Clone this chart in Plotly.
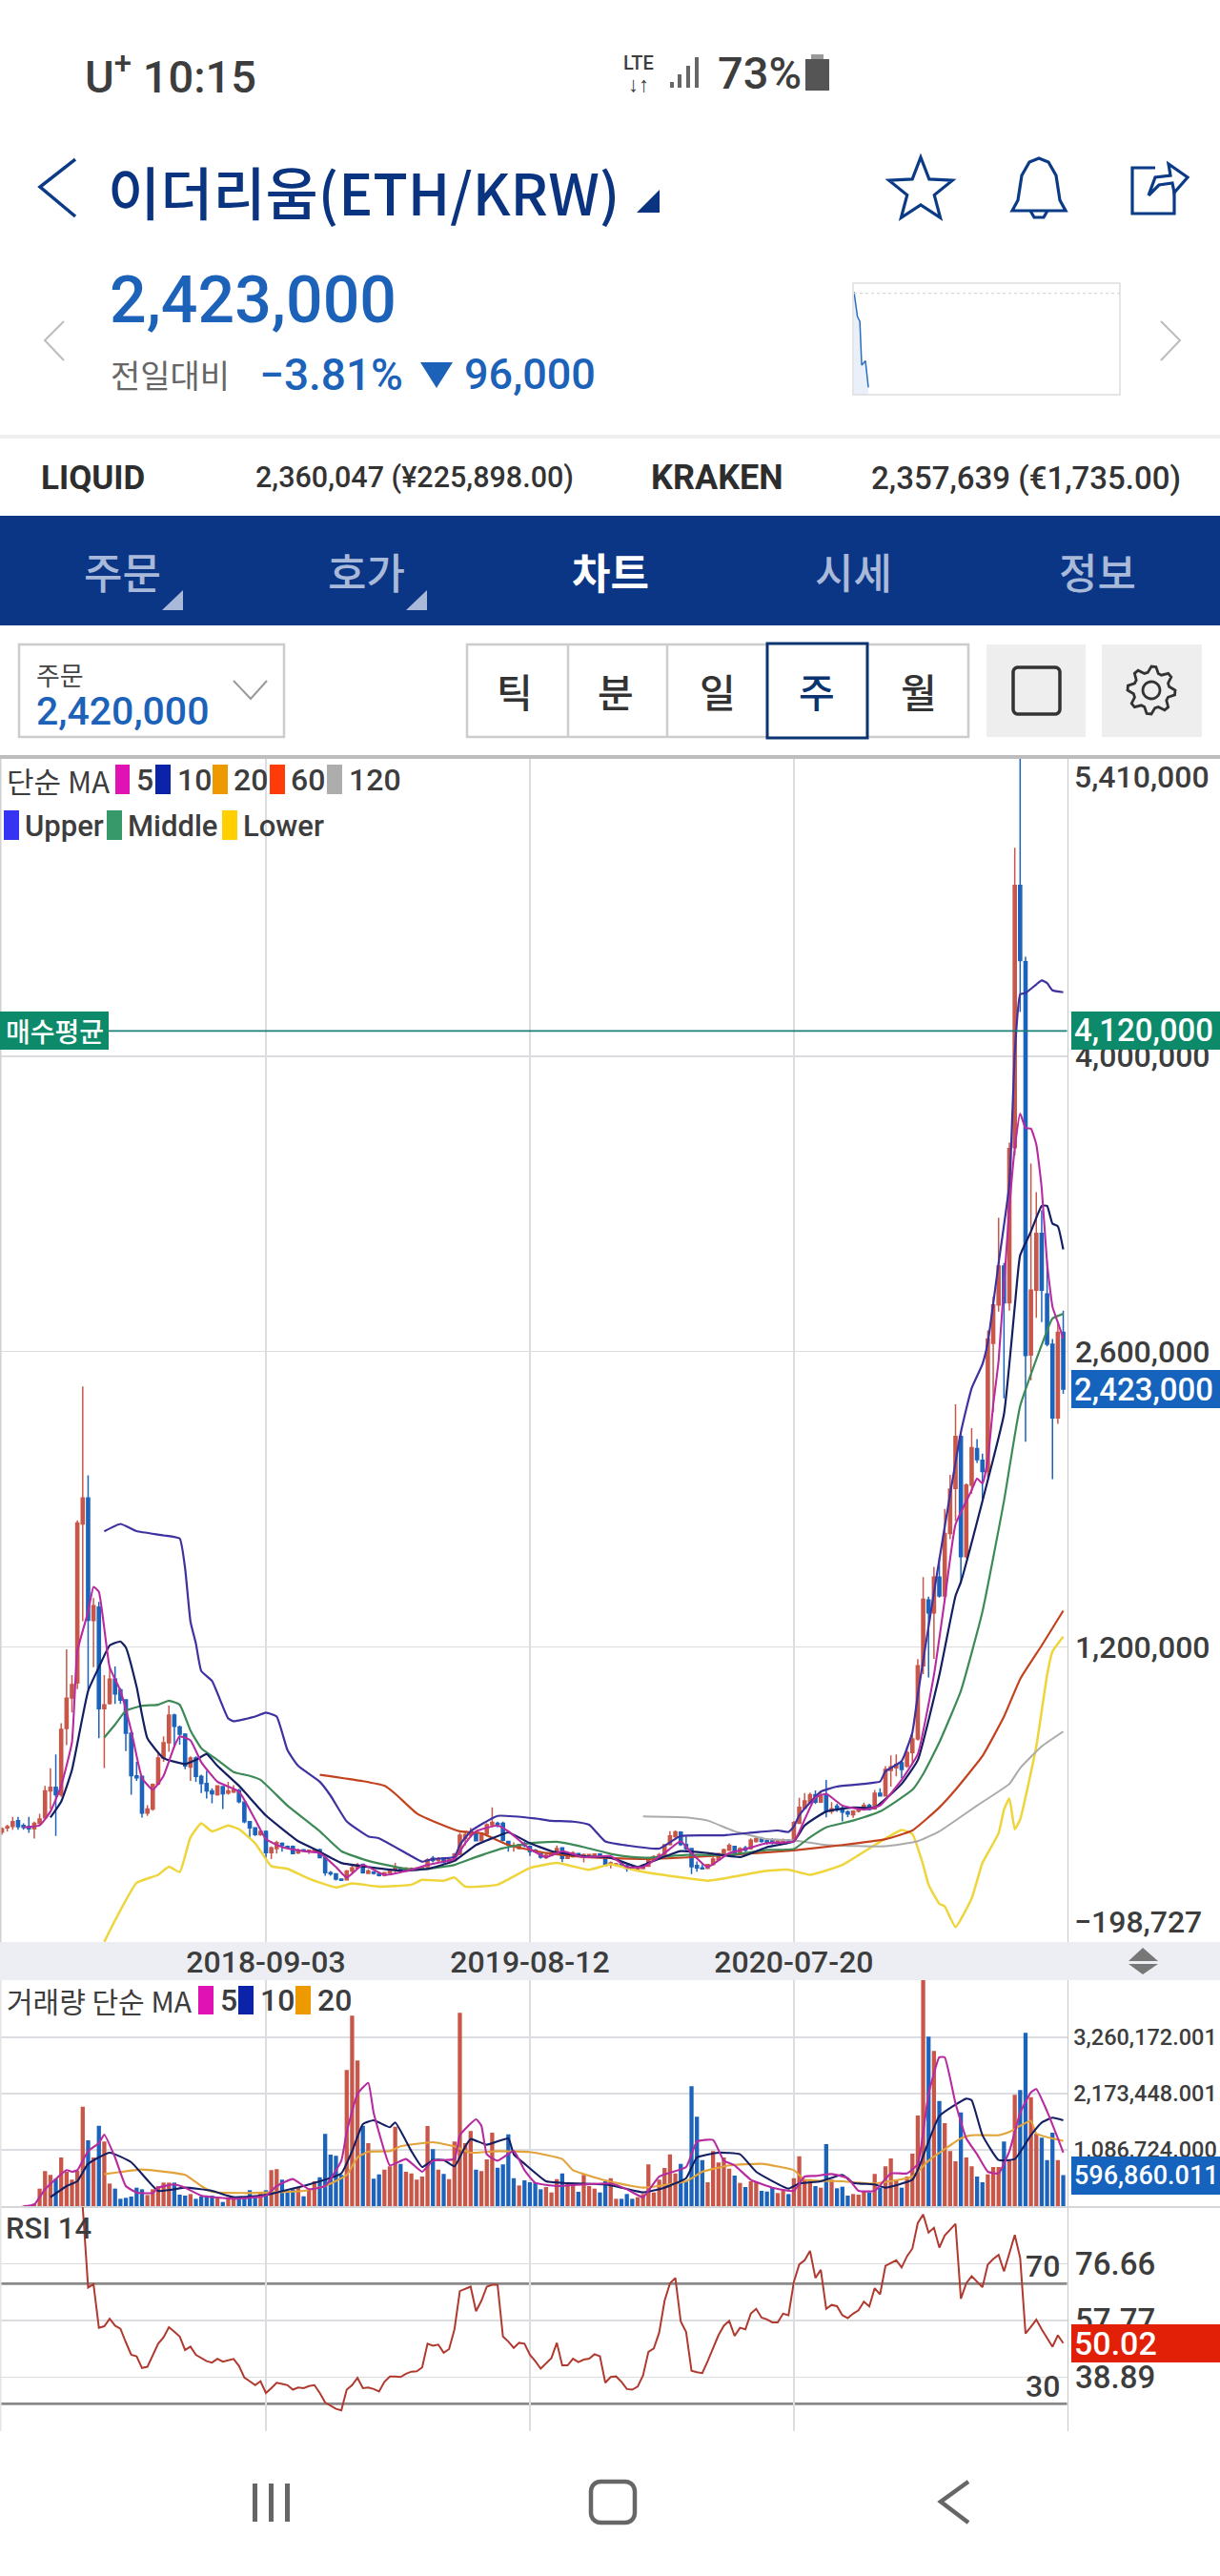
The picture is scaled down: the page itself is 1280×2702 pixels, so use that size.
import numpy as np
import pandas as pd
import plotly.graph_objects as go

W, H = 1280, 2702

# ---------- DATA (KRW thousands, weekly candles) ----------
first_week = "2017-09-25"
n_weeks = 198
date_ticks = ["2018-09-03", "2019-08-12", "2020-07-20"]

opens = [322,342,349,376,354,349,338,364,390,518,535,500,814,958,1029,1783,1906,1326,1389,907,932,1047,997,949,791,589,586,412,432,550,673,746,877,820,786,631,673,586,553,518,500,538,507,512,519,465,372,342,311,325,
225,244,269,254,254,224,239,232,233,239,201,130,124,99,96,138,153,170,127,133,126,118,130,141,152,146,146,146,149,158,198,188,198,179,188,218,293,308,319,281,314,357,364,364,278,254,244,269,254,236,221,
201,212,221,248,198,206,221,209,212,212,218,209,168,168,171,162,153,146,149,161,188,203,212,263,301,322,263,244,164,153,150,168,191,218,236,254,224,248,244,278,292,281,281,272,275,284,281,364,435,462,
500,465,498,422,445,436,418,405,422,428,449,433,506,494,615,627,651,635,700,764,1111,1423,1362,1531,1442,1738,1951,2198,1628,1967,2140,2085,2032,2640,2822,3006,2832,3567,4810,4448,2584,2892,3160,2873,2635,2286,2691]
highs = [345,357,394,394,364,394,372,409,541,625,691,839,1189,1067,1800,2435,2014,1432,1414,1067,1104,1107,1005,952,801,655,590,450,553,696,776,922,884,827,791,681,681,595,613,530,545,541,560,545,528,468,375,345,329,330,
254,281,274,259,259,244,242,239,239,244,206,138,127,100,143,168,176,173,146,136,129,134,146,176,156,156,155,155,161,198,209,203,203,203,224,319,322,342,322,319,364,440,372,372,281,274,266,278,259,242,224,
221,229,259,251,213,232,224,221,219,221,221,212,183,176,173,168,156,156,168,203,212,224,266,327,330,327,302,248,183,171,171,206,224,244,269,257,251,257,293,299,299,289,293,286,292,289,375,485,507,510,
520,510,570,465,457,449,425,425,442,462,457,522,530,635,686,691,659,729,796,1143,1531,1439,1580,1623,1854,2016,2350,2209,1975,2237,2185,2116,2700,2860,3235,3020,3591,4988,5410,4472,3492,3356,3270,3029,2660,2740,2794]
lows = [310,326,334,334,334,319,292,357,382,432,304,489,734,889,1000,1322,998,1104,767,626,927,930,930,706,500,565,391,399,424,545,655,703,726,737,620,565,560,507,482,459,495,432,500,507,459,364,296,304,304,200,
194,221,229,244,218,218,230,218,230,198,115,115,93,92,93,127,146,126,123,121,112,112,126,130,138,140,142,143,146,153,179,176,173,173,183,213,259,296,278,278,308,345,345,278,229,229,240,251,209,224,197,
195,209,218,180,194,201,203,179,209,209,209,161,150,164,160,135,143,140,146,158,183,200,203,259,284,257,236,123,135,146,148,164,188,209,233,221,221,228,239,272,272,263,263,269,271,272,274,360,432,455,
455,460,392,409,418,373,393,390,415,425,425,428,490,490,538,587,578,627,643,756,1071,1055,1144,1434,1413,1712,1798,1499,1620,1927,2072,1903,2000,2314,2790,2379,2794,3530,4210,2173,2464,2760,2740,2625,1996,2258,2400]
closes = [338,348,372,348,345,338,364,384,518,535,500,809,957,1022,1788,1906,1327,1395,907,926,1048,978,948,791,590,580,412,432,548,673,746,877,824,786,636,673,586,553,518,504,541,504,518,521,467,372,342,311,326,225,
248,272,259,248,221,236,233,236,236,201,130,124,100,94,138,153,167,130,138,127,117,130,143,150,143,152,150,152,156,191,188,197,179,191,218,308,310,322,281,311,357,369,360,284,263,259,263,259,231,229,203,
213,224,244,198,209,224,209,216,216,218,213,164,176,172,164,150,147,153,165,198,206,215,262,304,323,263,244,158,153,148,168,194,221,239,259,224,244,236,284,292,278,271,272,281,286,277,367,440,470,500,
465,493,425,433,433,417,408,422,436,449,430,506,494,619,632,643,619,700,764,1111,1426,1362,1531,1442,1738,1948,2198,1628,1967,2145,2088,2032,2660,2822,3006,2832,3563,4810,4454,2582,2892,3160,2892,2635,2286,2691,2423]

volume = [0,0,0,0,6,12,49,338,675,602,528,939,663,510,682,1922,1271,939,1553,1246,436,338,141,160,184,356,325,215,325,387,454,454,454,221,203,233,141,184,203,203,172,80,172,172,172,172,307,203,276,307,
694,712,510,295,325,356,190,325,479,559,1394,995,970,602,2628,3678,2812,1553,1216,528,614,706,768,1535,817,663,632,510,571,1547,1099,706,620,522,1246,3733,1216,1449,706,675,903,1418,743,804,1388,540,399,497,461,461,325,
368,264,522,632,448,448,276,602,387,338,264,479,540,141,141,233,141,172,233,804,264,510,737,1001,632,817,479,2315,1725,890,461,1062,841,939,725,589,448,368,479,461,295,282,356,252,295,233,540,964,510,522,
387,356,1197,510,344,375,203,233,221,295,264,620,356,768,921,510,356,571,1013,1750,4378,3273,2996,2032,1603,1062,866,1811,939,768,571,461,614,755,755,1246,878,2149,2241,3346,2106,1400,1320,890,1418,890,597]
volume_dir = list("rrrrrrrrrr" "brrrrrbrbr" "rbbbbbbrrr" "rrbbbrbbbb" "rbrrbbbbrb"
                  "rrbbbrbrrb" "bbbbrrrbrb" "brrrbrrrrr" "brbrrrrrbr" "rrbbbbrbbb"
                  "brrrbrrbrr" "rbbrrbbbrr" "rrrrrrbbbb" "brrrrrbrbr" "rbbbrrbrrr"
                  "rbrbrbbbrr" "rbrbrrrbrr" "rrbrbrrrbr" "rbbrrrbrrb" "brrbbbrb")

ma5_idx = [4,7,9,11,13,14,16,17,18,20,22,24,26,28,30,32,33,35,37,40,44,47,49,52,56,59,62,64,67,71,76,79,84,86,88,92,94,98,101,104,108,113,116,119,123,126,128,131,135,138,142,147,149,151,153,156,160,163,167,170,173,175,177,180,181,182,183,184,185,187,188,189,190,191,192,193,194,195,196,197]
ma5_val = [345,354,420,542,748,1179,1367,1485,1461,1104,992,804,579,523,589,729,776,757,654,561,514,382,289,251,232,223,157,107,167,120,144,167,195,270,326,354,326,242,204,232,204,208,157,157,223,279,223,157,223,242,270,279,382,486,504,448,429,448,570,692,1067,1423,1781,1943,1999,1975,2088,2347,2557,3282,3563,3728,3661,3657,3582,3376,3019,2813,2738,2663]
ma10_idx = [9,11,13,16,18,20,22,23,25,27,30,34,36,38,40,44,49,55,58,63,68,75,79,84,88,93,94,98,102,108,113,118,120,126,131,137,142,147,149,153,158,162,167,170,174,177,178,182,186,188,189,191,193,194,195,196,197]
ma10_val = [392,467,617,992,1104,1207,1226,1198,1011,767,673,645,664,692,636,542,401,279,242,176,157,139,148,186,261,313,321,270,232,208,201,157,176,232,223,204,251,279,354,420,439,439,551,664,1067,1442,1508,1892,2304,2813,3057,3169,3291,3291,3207,3194,3085]
ma60_idx = [59,67,71,73,77,81,85,89,94,101,108,120,135,147,156,164,169,174,177,182,186,189,193,197]
ma60_val = [594,564,542,504,411,364,326,317,261,223,204,195,214,236,261,289,330,439,523,683,870,1048,1207,1372]
ma120_idx = [119,127,131,136,142,147,153,164,170,174,181,187,189,193,197]
ma120_val = [397,392,377,326,289,283,261,255,279,326,448,551,626,729,799]
upper_idx = [19,22,25,30,33,34,35,36,37,39,42,43,47,49,51,53,55,59,61,64,68,70,76,78,80,84,85,87,92,99,102,106,109,112,116,122,126,134,140,144,146,147,148,150,152,155,160,163,164,167,169,170,172,173,178,180,182,183,185,187,188,189,190,192,193,194,195,197]
upper_val = [1748,1783,1749,1729,1714,1573,1320,1217,1086,1039,861,848,870,889,870,711,636,561,495,373,302,293,208,182,195,204,261,326,399,387,376,372,357,278,259,244,304,307,322,330,323,349,402,462,514,538,551,562,610,659,796,974,1297,1458,2218,2427,2541,2644,3019,3394,4013,4294,4300,4341,4360,4347,4313,4304]
middle_idx = [19,21,23,26,29,31,33,35,37,40,43,46,48,53,59,63,68,75,79,84,88,93,98,103,108,113,117,120,127,135,142,147,150,153,158,163,169,171,174,178,182,186,189,193,195,197]
middle_val = [771,832,898,921,926,945,926,804,720,664,607,589,570,448,326,232,186,148,148,167,204,246,270,276,251,219,204,201,214,214,238,242,298,345,377,420,523,598,748,992,1367,1892,2342,2632,2757,2779]
lower_idx = [19,21,25,29,31,33,35,37,39,42,44,47,50,53,57,62,65,70,76,78,82,84,86,92,98,103,109,113,118,125,131,135,142,146,150,156,162,167,169,171,172,174,175,177,180,182,185,186,187,188,189,192,194,195,197]
lower_val = [-198,-96,82,120,158,133,298,364,326,354,336,270,161,148,101,60,79,64,73,96,92,107,64,73,152,176,144,170,139,111,92,107,139,144,120,167,261,332,313,167,73,-17,-30,-128,8,176,317,429,482,336,382,729,1067,1179,1249]

vol_ma5_idx = [4,6,8,12,13,14,16,18,19,21,23,25,28,29,32,34,37,43,49,51,54,57,60,63,64,66,68,69,71,72,75,78,80,84,85,88,89,90,92,95,97,99,103,108,113,116,119,122,127,129,132,134,136,139,143,147,149,151,154,157,159,162,165,168,170,172,174,175,177,179,181,183,185,187,189,191,192,194,196,197]
vol_ma5_val = [0,31,325,694,663,694,1062,1216,1382,939,387,264,252,356,418,356,203,141,203,387,522,325,387,878,1431,2167,2382,1799,1062,786,909,663,878,909,1369,1676,1553,1001,878,1062,694,448,387,418,436,325,172,571,755,1246,1277,878,786,510,356,295,571,583,620,540,295,295,632,632,817,2167,2874,2874,1983,1308,1001,663,632,1062,1799,2198,2260,1830,1308,1032]
vol_ma10_idx = [9,12,14,16,20,24,29,34,39,43,49,57,63,65,67,69,72,73,76,78,80,82,84,86,87,90,94,95,97,101,104,112,115,119,123,127,129,133,137,140,146,148,152,156,158,162,164,169,170,174,179,180,182,185,188,191,193,195,197]
vol_ma10_val = [172,387,479,817,1032,847,295,356,295,172,215,418,632,1062,1584,1658,1523,1615,1062,755,890,890,768,1154,1296,1185,1308,1001,817,479,448,418,356,264,356,540,939,1032,1001,663,338,436,479,602,448,418,356,510,694,1738,2075,2045,1369,890,909,1369,1615,1707,1658]
vol_ma20_idx = [19,21,26,34,37,39,45,50,56,60,64,66,68,72,74,80,84,87,92,98,104,106,112,117,119,127,130,135,141,147,149,156,162,169,172,178,180,185,187,191,192,197]
vol_ma20_val = [620,645,706,602,387,276,252,264,295,387,602,939,1050,1062,1154,1234,1154,1032,1062,1044,909,694,497,387,356,479,663,786,817,694,510,479,436,571,878,1308,1369,1369,1431,1646,1400,1259]

rsi_start = 15
rsi = [95.5,68.7,69.8,55.3,55.8,58.3,56,55,50.5,46.3,45.8,41.9,42.3,46.3,50,52.1,55.5,54,52.4,47.9,49,46.3,45.2,44.2,43.7,45,44,44.5,44.9,42.6,38.7,37.5,36.2,37.5,33.6,35.2,37,36.6,36.2,34.7,35.4,35.2,35.9,36.2,33.6,30.4,29.4,28.3,27.8,34.7,36.2,38.6,35.2,35.4,34.9,34.1,37.3,39.1,39.1,38.9,40,40.7,40.8,42.1,50,49.3,49.7,47,48.2,54.8,67.5,68.3,69,60.8,64.3,69,69.6,69.6,52.4,50.7,48.6,50.3,50,46.3,44.2,41.7,43.4,45.2,50.3,42.8,42.8,45,43.9,44.7,45,46.5,45.8,37,
38.9,39.1,37.3,34.9,34.7,35.7,39.4,47.3,48.4,53.7,64.3,70.1,71.9,57.4,53.9,41,40.5,40.2,44.2,48.4,52.8,56,57.6,52.6,55.3,54.8,60,61.6,58.7,58.1,57.1,57.1,60,59.5,70.6,76.4,77.8,80.9,71.9,74.6,61.6,62.9,62.5,59.5,58.5,60,61.1,64,62.4,68.5,66.4,75.9,76.8,77.8,75.4,79.1,81.7,90.2,93,87,88.6,82,86,88.1,89.9,65,70.1,72.5,70.6,68.8,76.4,78.2,79.6,74.1,80.1,86.2,78.6,53.4,55.6,58,54.8,52.1,49,52.8,50.2]

spark_t = [0, 1.3, 2.2, 2.9, 4.3, 5.4]
spark_v = [2522, 2471, 2461, 2371, 2380, 2325]
prev_close = 2519
avg_buy = 4120
last_price = 2423
price_ticks = [4000, 2600, 1200]
price_labels = ["4,000,000", "2,600,000", "1,200,000"]
vol_ticks = [1086.724, 2173.448, 3260.172]
vol_labels = ["1,086,724.000", "2,173,448.001", "3,260,172.001"]
rsi_ticks = [38.89, 57.77, 76.66]
rsi_labels = ["38.89", "57.77", "76.66"]

assert len(opens) == len(highs) == len(lows) == len(closes) == len(volume) == len(volume_dir) == n_weeks
assert len(rsi) == n_weeks - rsi_start

# ---------- colours ----------
RED, BLUE = "#c8574a", "#1c63bb"
C_MA5, C_MA10, C_MA60, C_MA120 = "#b82aa0", "#141f63", "#c4431f", "#ababab"
C_UP, C_MID, C_LOW, C_MA20 = "#3d32a0", "#3d8a57", "#eed53c", "#e2a33a"
NAVY, TXT, PRICE = "#0a3685", "#3d3d3d", "#1c62b8"
GRID = "#dcdde0"
SANS, KR = "Roboto", "Noto Sans CJK KR"

# ---------- helpers (pixel -> paper) ----------
def X(p): return p / W
def Y(p): return 1 - p / H

dates = pd.date_range(first_week, periods=n_weeks, freq="7D")
def dt(idx): return [dates[i] for i in idx]

shapes, annos = [], []
def rect(x0, y0, x1, y1, fill=None, line=None, lw=0, layer="above"):
    shapes.append(dict(type="rect", xref="paper", yref="paper", x0=X(x0), x1=X(x1), y0=Y(y1), y1=Y(y0),
                       fillcolor=fill or "rgba(0,0,0,0)", line=dict(color=line or "rgba(0,0,0,0)", width=lw), layer=layer))
def poly(pts, color=None, lw=2, fill=None, close=False, layer="above"):
    d = "M" + " L".join(f"{X(a):.5f},{Y(b):.5f}" for a, b in pts) + (" Z" if close else "")
    shapes.append(dict(type="path", xref="paper", yref="paper", path=d, fillcolor=fill or "rgba(0,0,0,0)",
                       line=dict(color=color or "rgba(0,0,0,0)", width=lw), layer=layer))
def rrect(x0, y0, x1, y1, r, color, lw):
    pts = []
    for cx, cy, a0 in [(x1 - r, y0 + r, -90), (x1 - r, y1 - r, 0), (x0 + r, y1 - r, 90), (x0 + r, y0 + r, 180)]:
        for t in np.radians(np.linspace(a0, a0 + 90, 6)):
            pts.append((cx + r * np.cos(t), cy + r * np.sin(t)))
    poly(pts, color=color, lw=lw, close=True)
def text(s, x, y, size, color=TXT, anchor="left", font=SANS, weight=500):
    annos.append(dict(text=s, xref="paper", yref="paper", x=X(x), y=Y(y), xanchor=anchor,
                      yanchor="middle", showarrow=False, font=dict(size=size, color=color, family=font, weight=weight),
                      borderpad=0))

# ---------- figure ----------
fig = go.Figure()
fig.add_trace(go.Candlestick(x=dates, open=opens, high=highs, low=lows, close=closes, xaxis="x", yaxis="y",
    increasing=dict(line=dict(color=RED, width=1.5), fillcolor=RED),
    decreasing=dict(line=dict(color=BLUE, width=1.5), fillcolor=BLUE), whiskerwidth=0, showlegend=False))
for idx, val, col, w in [(lower_idx, lower_val, C_LOW, 2.5), (ma120_idx, ma120_val, C_MA120, 2),
                         (ma60_idx, ma60_val, C_MA60, 2.2), (middle_idx, middle_val, C_MID, 2.2),
                         (upper_idx, upper_val, C_UP, 2.2), (ma10_idx, ma10_val, C_MA10, 2.2),
                         (ma5_idx, ma5_val, C_MA5, 2.1)]:
    fig.add_trace(go.Scatter(x=dt(idx), y=val, mode="lines", line=dict(color=col, width=w, shape="spline", smoothing=0.4),
                             xaxis="x", yaxis="y", showlegend=False, cliponaxis=True))

fig.add_trace(go.Bar(x=dates, y=volume, marker=dict(color=[RED if d == "r" else BLUE for d in volume_dir], line=dict(width=0)),
                     xaxis="x2", yaxis="y2", showlegend=False))
for idx, val, col in [(vol_ma20_idx, vol_ma20_val, C_MA20), (vol_ma10_idx, vol_ma10_val, C_MA10), (vol_ma5_idx, vol_ma5_val, C_MA5)]:
    fig.add_trace(go.Scatter(x=dt(idx), y=val, mode="lines", line=dict(color=col, width=2.1, shape="spline", smoothing=0.4),
                             xaxis="x2", yaxis="y2", showlegend=False))

fig.add_trace(go.Scatter(x=dates[rsi_start:], y=rsi, mode="lines", line=dict(color="#b03a30", width=2),
                         xaxis="x3", yaxis="y3", showlegend=False))

fig.add_trace(go.Scatter(x=spark_t, y=spark_v, mode="lines", line=dict(color="#2a6fc0", width=1.5), fill="tozeroy",
                         fillcolor="rgba(42,111,192,0.10)", xaxis="x4", yaxis="y4", showlegend=False))

# axes
PLOT_R = 1119.5
xr = [dates[0] - pd.Timedelta(days=2.5), dates[-1] + pd.Timedelta(days=4.9)]
def dom_y(top, bot): return [1 - bot / H, 1 - top / H]
xcommon = dict(type="date", range=xr, domain=[0, PLOT_R / W], tickvals=date_ticks, showgrid=True, gridcolor=GRID, gridwidth=1.5,
               zeroline=False, showline=False, rangeslider=dict(visible=False), fixedrange=True)
ycommon = dict(side="right", tickmode="array", showgrid=True, gridcolor=GRID, gridwidth=1.3, zeroline=False, showline=True,
               linecolor="#c8c8c8", ticks="", fixedrange=True, ticklabelstandoff=1)
layout = dict(
    width=W, height=H, margin=dict(l=0, r=0, t=0, b=0), paper_bgcolor="white", plot_bgcolor="white",
    showlegend=False, bargap=0.24, dragmode=False, boxgap=0.45, boxgroupgap=0,
    xaxis=dict(xcommon, anchor="y", ticktext=date_ticks, tickmode="array", showticklabels=True, ticks="",
               ticklabelstandoff=-1, tickfont=dict(family=SANS, size=32, color=TXT, weight=500)),
    xaxis2=dict(xcommon, anchor="y2", showticklabels=False, matches="x"),
    xaxis3=dict(xcommon, anchor="y3", showticklabels=False, matches="x"),
    yaxis=dict(ycommon, domain=dom_y(796, 2037), range=[-198.727, 5410], anchor="x", tickvals=price_ticks,
               ticktext=price_labels, tickfont=dict(family=SANS, size=32, color=TXT, weight=500)),
    yaxis2=dict(ycommon, domain=dom_y(2077, 2314), range=[0, 4365], anchor="x2", tickvals=vol_ticks,
                ticktext=vol_labels, tickfont=dict(family=SANS, size=23.5, color=TXT, weight=500)),
    yaxis3=dict(ycommon, domain=dom_y(2315, 2550), range=[20.9, 95.5], anchor="x3", tickvals=rsi_ticks,
                ticktext=rsi_labels, tickfont=dict(family=SANS, size=33, color=TXT, weight=500)),
    xaxis4=dict(domain=[896 / W, 1175 / W], range=[0, 100], anchor="y4", visible=False, fixedrange=True),
    yaxis4=dict(domain=dom_y(297, 414), range=[2310, 2540], anchor="x4", visible=False, fixedrange=True),
)

# buy-average & RSI guide lines (on the data axes)
shapes.append(dict(type="line", xref="x domain", yref="y", x0=0, x1=1, y0=avg_buy, y1=avg_buy, line=dict(color="#1a7f78", width=1.8), layer="above"))
for lvl in (70, 30):
    shapes.append(dict(type="line", xref="x3 domain", yref="y3", x0=0, x1=1, y0=lvl, y1=lvl, line=dict(color="#8a8a8a", width=2.6), layer="below"))

# ---------- chart chrome ----------
rect(0, 2037, W, 2077, fill="#eceef3", layer="below")
rect(0, 792, W, 796, fill="#bdbdbd", layer="below")
rect(0, 2314, W, 2316, fill="#d5d6d9", layer="below")
poly([(0.8, 796), (0.8, 2037)], color="#d0d0d0", lw=1.5)
poly([(0.8, 2077), (0.8, 2550)], color="#e4e4e4", lw=1.5)
poly([(1184, 2057), (1199, 2043), (1215, 2057)], fill="#777777", close=True)
poly([(1184, 2060), (1199, 2071), (1215, 2060)], fill="#777777", close=True)

def swatches(items, y0, y1):
    for a, b, c in items:
        rect(a, y0, b, y1, fill=c)
text("단순 MA", 6, 818, 31, font=KR, weight=400)
swatches([(121, 136, "#e012b4"), (163, 179, "#0b23a8"), (223, 239, "#ec9a00"), (283, 299, "#ff3b0a"), (343, 359, "#adadad")], 802, 833)
for s, x in [("5", 142), ("10", 185), ("20", 244), ("60", 304), ("120", 365)]:
    text(s, x, 818, 32)
swatches([(4, 20, "#3633f2"), (112, 128, "#37996a"), (233, 249, "#ffcf00")], 850, 881)
for s, x in [("Upper", 25), ("Middle", 133), ("Lower", 254)]:
    text(s, x, 866, 31)

rect(0, 1061, 114, 1101, fill="#0d8a6a")
text("매수평균", 57, 1081, 28, color="white", anchor="center", font=KR)
rect(1124, 1061, W, 1101, fill="#0d8a6a")
text("4,120,000", 1126, 1081, 33, color="white")
rect(1124, 1437, W, 1477, fill="#1563bd")
text("2,423,000", 1126, 1457, 33, color="white")
text("5,410,000", 1126, 815, 32)
text("−198,727", 1126, 2016, 32)

text("거래량 단순 MA", 6, 2098, 30, font=KR, weight=400)
swatches([(208, 224, "#e012b4"), (250, 266, "#0b23a8"), (310, 326, "#ec9a00")], 2083, 2113)
for s, x in [("5", 230), ("10", 272), ("20", 332)]:
    text(s, x, 2098, 32)
rect(1124, 2262, W, 2302, fill="#1563bd")
text("596,860.011", 1126, 2282, 27, color="white")
text("RSI 14", 5, 2337, 31)
text("70", 1113, 2377, 32, anchor="right")
text("30", 1113, 2503, 32, anchor="right")
rect(1124, 2438, W, 2478, fill="#e21f07")
text("50.02", 1126, 2458, 34, color="white")

# ---------- app chrome : status bar ----------
text("U<sup>+</sup> 10:15", 88, 77, 47)
text("LTE", 670, 66, 20, anchor="center")
text("↓↑", 670, 88, 22, anchor="center")
for a, top in [(703, 86), (711, 78), (720, 69), (729, 60)]:
    rect(a, top, a + 4, 92, fill="#666666")
text("73%", 752, 77, 47)
rect(845, 62, 870, 95, fill="#555555")
rect(851, 57, 864, 62, fill="#999999")

# header
poly([(79, 167), (42, 196), (79, 227)], color="#0b3a86", lw=3.5)
text("이더리움(ETH/KRW)", 112, 200, 60, color="#0a3480", font=KR, weight=500)
poly([(668, 223), (692, 223), (692, 199)], fill="#0a3480", close=True)
star = []
for k in range(10):
    r = 35 if k % 2 == 0 else 15
    a = -np.pi / 2 + k * np.pi / 5
    star.append((966 + r * np.cos(a), 200 + r * np.sin(a)))
poly(star, color="#0b3a86", lw=3.2, close=True)
bell = [(1062, 221), (1068, 210), (1072, 184), (1080, 170), (1090, 166), (1100, 170), (1108, 184), (1112, 210), (1118, 221)]
poly(bell, color="#0b3a86", lw=3.2, close=True)
poly([(1081, 221), (1085, 228), (1095, 228), (1099, 221)], color="#0b3a86", lw=3.2)
poly([(1232, 178), (1232, 224), (1188, 224), (1188, 176), (1212, 176)], color="#0b3a86", lw=3.2)
poly([(1205, 205), (1212, 186), (1228, 184), (1226, 172), (1246, 186), (1232, 202), (1230, 192), (1216, 194), (1205, 205)], color="#0b3a86", lw=3.2, fill="white")

text("2,423,000", 114, 315, 68, color=PRICE)
text("전일대비", 115, 393, 34, color="#666666", font=KR, weight=400)
text("−3.81%", 271, 393, 46, color=PRICE)
poly([(441, 380), (475, 380), (458, 407)], fill=PRICE, close=True)
text("96,000", 486, 393, 45, color=PRICE)
poly([(67, 337), (47, 357), (67, 378)], color="#bcbcbc", lw=2)
poly([(1218, 337), (1238, 357), (1218, 378)], color="#bcbcbc", lw=2)
rect(895, 297, 1175, 414, line="#dddddd", lw=1.5)
shapes.append(dict(type="line", xref="x4 domain", yref="y4", x0=0, x1=1, y0=prev_close, y1=prev_close,
                   line=dict(color="#d8d8d8", width=1.2, dash="dot"), layer="above"))

# exchange row
rect(0, 456, W, 460, fill="#eeeeee")
text("LIQUID", 42, 501, 35, color="#2d2d2d", weight=700)
text("2,360,047 (¥225,898.00)", 267, 501, 30.5, color="#333333")
text("KRAKEN", 682, 501, 36, color="#2d2d2d", weight=700)
text("2,357,639 (€1,735.00)", 913, 501, 33, color="#333333")

# nav bar
rect(0, 541, W, 656, fill=NAVY)
for s, x, c in [("주문", 128, "#a9b9d9"), ("호가", 384, "#a9b9d9"), ("차트", 640, "white"), ("시세", 895, "#a9b9d9"), ("정보", 1151, "#a9b9d9")]:
    text(s, x, 599, 44, color=c, anchor="center", font=KR, weight=(700 if c == "white" else 500))
for a in (170, 426):
    poly([(a, 640), (a + 22, 640), (a + 22, 619)], fill="#a9b9d9", close=True)

# toolbar
rect(20, 676, 298, 773, line="#cccccc", lw=2.5)
text("주문", 37, 707, 27, color="#444444", font=KR, weight=400)
text("2,420,000", 37, 746, 41, color=PRICE)
poly([(245, 714), (263, 733), (280, 714)], color="#999999", lw=2)
rect(490, 676, 1016, 773, line="#cccccc", lw=2.5)
for a in (596, 700):
    poly([(a, 676), (a, 773)], color="#cccccc", lw=2.5)
rect(805, 675, 910, 774, line="#0a3470", lw=3, fill="white")
for s, x, c in [("틱", 540, "#333333"), ("분", 646, "#333333"), ("일", 753, "#333333"), ("주", 857, "#0a3470"), ("월", 964, "#333333")]:
    text(s, x, 724, 41, color=c, anchor="center", font=KR)
rect(1035, 676, 1139, 773, fill="#eeeeee")
rrect(1063, 700, 1112, 749, 5, "#333333", 3.5)
rect(1156, 676, 1261, 773, fill="#eeeeee")
gear = []
for k in range(32):
    a = 2 * np.pi * k / 32
    r = 25 if (k % 4) in (0, 1) else 19
    gear.append((1208 + r * np.cos(a), 724 + r * np.sin(a)))
poly(gear, color="#333333", lw=2.8, close=True)
circ = [(1208 + 9 * np.cos(t), 724 + 9 * np.sin(t)) for t in np.linspace(0, 2 * np.pi, 24)]
poly(circ, color="#333333", lw=2.8, close=True)

# android navigation bar
for a in (265, 282, 299):
    rect(a, 2605, a + 5, 2645, fill="#666666")
rrect(620, 2603, 666, 2646, 10, "#666666", 4.5)
poly([(1016, 2603), (987, 2624), (1016, 2646)], color="#666666", lw=4.5)

layout["shapes"] = shapes
layout["annotations"] = annos
fig.update_layout(**layout)
fig.write_html("out.html", config=dict(displayModeBar=False, staticPlot=True),
               post_script="document.body.style.margin='0';document.body.style.overflow='hidden';")
